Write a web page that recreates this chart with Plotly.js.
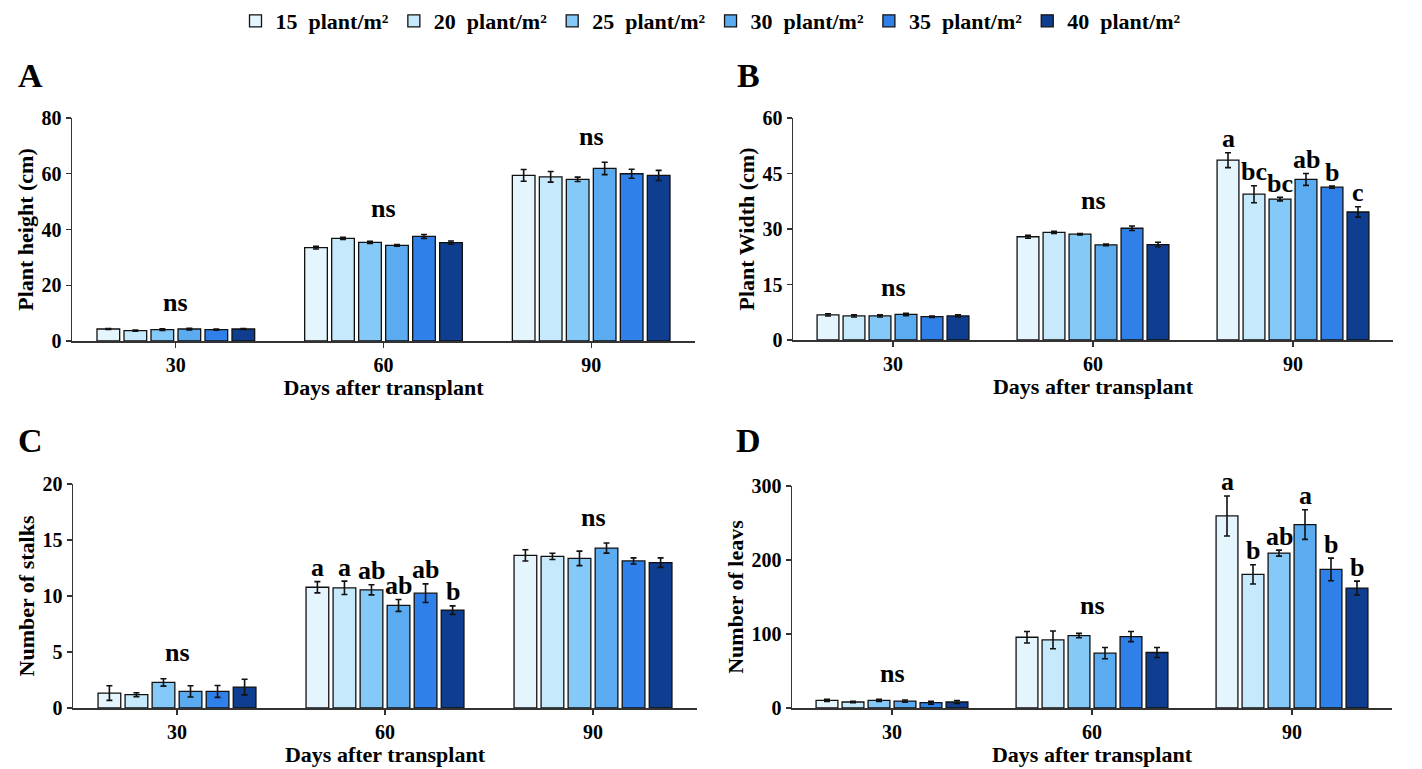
<!DOCTYPE html>
<html>
<head>
<meta charset="utf-8">
<script src="https://cdn.plot.ly/plotly-3.0.1.min.js"></script>
<style>html,body{margin:0;padding:0;background:#fff;}#chart{width:1422px;height:769px;}</style>
</head>
<body>
<div id="chart"></div>
<script>
// ---- data ----
const days = ['30', '60', '90'];
const densities = ['15\u00a0\u00a0plant/m²', '20\u00a0\u00a0plant/m²', '25\u00a0\u00a0plant/m²', '30\u00a0\u00a0plant/m²', '35\u00a0\u00a0plant/m²', '40\u00a0\u00a0plant/m²'];
const colors = ['#e4f5fd', '#c6eafb', '#84c9f8', '#5aabf0', '#2f80e8', '#0f3d8f'];

// values per density: [30, 60, 90 days]
const heightVals = [[4.3, 33.5, 59.4], [3.7, 36.8, 58.9], [4.1, 35.4, 58.0], [4.3, 34.3, 61.9], [4.1, 37.5, 60.0], [4.3, 35.3, 59.4]];
const heightErr  = [[0.2, 0.5, 2.1], [0.2, 0.4, 1.9], [0.3, 0.4, 0.8], [0.3, 0.3, 2.2], [0.2, 0.7, 1.6], [0.2, 0.6, 1.8]];
const widthVals  = [[6.8, 27.9, 48.6], [6.5, 29.1, 39.4], [6.5, 28.6, 38.1], [6.9, 25.7, 43.4], [6.3, 30.2, 41.3], [6.5, 25.8, 34.6]];
const widthErr   = [[0.3, 0.4, 2.0], [0.3, 0.3, 2.3], [0.3, 0.2, 0.5], [0.3, 0.2, 1.6], [0.2, 0.6, 0.3], [0.3, 0.6, 1.4]];
const stalkVals  = [[1.33, 10.78, 13.63], [1.19, 10.73, 13.54], [2.28, 10.55, 13.36], [1.48, 9.16, 14.28], [1.48, 10.25, 13.13], [1.87, 8.74, 12.98]];
const stalkErr   = [[0.65, 0.5, 0.5], [0.17, 0.6, 0.28], [0.33, 0.45, 0.65], [0.5, 0.53, 0.45], [0.53, 0.83, 0.27], [0.7, 0.38, 0.42]];
const leafVals   = [[10.3, 95.6, 259.5], [8.1, 92.0, 180.5], [10.3, 97.9, 209.3], [9.4, 74.1, 247.9], [7.2, 96.5, 187.2], [8.1, 75.0, 162.1]];
const leafErr    = [[1.5, 7.7, 27], [1.0, 12, 13], [1.5, 3, 4], [1.5, 7.6, 20], [2.0, 6.8, 15.3], [2.0, 6.7, 9.4]];

// letters per day group (null = 'ns' for whole group)
const heightLetters = [null, null, null];
const widthLetters  = [null, null, ['a', 'bc', 'bc', 'ab', 'b', 'c']];
const stalkLetters  = [null, ['a', 'a', 'ab', 'ab', 'ab', 'b'], null];
const leafLetters   = [null, null, ['a', 'b', 'ab', 'a', 'b', 'b']];

const panelLetters = ['A', 'B', 'C', 'D'];
const yTitles = ['Plant height (cm)', 'Plant Width (cm)', 'Number of stalks', 'Number of leavs'];
const yTicks = [[0, 20, 40, 60, 80], [0, 15, 30, 45, 60], [0, 5, 10, 15, 20], [0, 100, 200, 300]];
const xTitle = 'Days after transplant';

// ---- layout ----
const W = 1422, H = 769;
const FONT = 'Liberation Serif, Times New Roman, serif';
const BARGAP = 0.22, GROUPGAP = 0.16;
const panels = [
  {vals: heightVals, err: heightErr, letters: heightLetters, xd: [72, 695], yd: [341, 118]},
  {vals: widthVals, err: widthErr, letters: widthLetters, xd: [793, 1393], yd: [340, 118]},
  {vals: stalkVals, err: stalkErr, letters: stalkLetters, xd: [73, 697], yd: [708, 484]},
  {vals: leafVals, err: leafErr, letters: leafLetters, xd: [792, 1392], yd: [708, 486]}
];
const panelLetterPos = [[30, 75], [748, 75], [30, 440], [748, 440]];

const traces = [];
const annotations = [];
const layout = {
  width: W, height: H,
  margin: {l: 0, r: 0, t: 0, b: 0},
  paper_bgcolor: '#fff', plot_bgcolor: '#fff',
  barmode: 'group', bargap: BARGAP, bargroupgap: GROUPGAP,
  font: {family: FONT, color: '#000', size: 20},
  showlegend: true,
  legend: {orientation: 'h', x: 0.5, xanchor: 'center', y: 1.0, yanchor: 'top',
           font: {family: FONT, size: 22, color: '#000', weight: 'bold'},
           itemwidth: 30, tracegroupgap: 0, bgcolor: 'rgba(0,0,0,0)'},
  annotations: annotations
};

panels.forEach((p, k) => {
  const xa = 'xaxis' + (k === 0 ? '' : k + 1);
  const ya = 'yaxis' + (k === 0 ? '' : k + 1);
  const xr = 'x' + (k === 0 ? '' : k + 1);
  const yr = 'y' + (k === 0 ? '' : k + 1);
  const ticks = yTicks[k];
  const ymax = ticks[ticks.length - 1];
  layout[xa] = {
    domain: [p.xd[0] / W, p.xd[1] / W], anchor: yr, type: 'category',
    range: [-0.5, 2.5], showline: true, linecolor: '#333', linewidth: 1.5,
    ticks: 'outside', ticklen: 5, tickcolor: '#333', tickwidth: 1.2,
    showgrid: false, zeroline: false, fixedrange: true,
    tickfont: {family: FONT, size: 20, color: '#000', weight: 'bold'},
    title: {text: xTitle, font: {family: FONT, size: 22, color: '#000', weight: 'bold'}, standoff: 5}
  };
  layout[ya] = {
    domain: [(H - p.yd[0]) / H, (H - p.yd[1]) / H], anchor: xr,
    range: [0, ymax], tickvals: ticks, showline: true, linecolor: '#333', linewidth: 1.5,
    ticks: 'outside', ticklen: 5, tickcolor: '#333', tickwidth: 1.2,
    showgrid: false, zeroline: false, fixedrange: true,
    tickfont: {family: FONT, size: 20, color: '#000', weight: 'bold'},
    title: {text: yTitles[k], font: {family: FONT, size: 22, color: '#000', weight: 'bold'}, standoff: 2}
  };
  for (let i = 0; i < densities.length; i++) {
    traces.push({
      type: 'bar', name: densities[i], x: days, y: p.vals[i],
      xaxis: xr, yaxis: yr, legendgroup: densities[i], showlegend: k === 0,
      marker: {color: colors[i], line: {color: '#111', width: 1.3}},
      error_y: {type: 'data', array: p.err[i], visible: true, color: '#111', thickness: 1.6, width: 3},
      hoverinfo: 'skip'
    });
  }
  const slot = (1 - BARGAP) / densities.length;
  days.forEach((d, g) => {
    const tops = p.vals.map((v, i) => v[g] + p.err[i][g]);
    const lets = p.letters[g];
    if (!lets) {
      annotations.push({
        xref: xr, yref: yr, x: g, y: Math.max(...tops), yanchor: 'middle', yshift: 26,
        text: 'ns', showarrow: false,
        font: {family: FONT, size: 26, color: '#000', weight: 'bold'}
      });
    } else {
      lets.forEach((t, i) => {
        annotations.push({
          xref: xr, yref: yr, x: g + (i - (densities.length - 1) / 2) * slot, y: tops[i],
          yanchor: 'middle', yshift: 14, text: t, showarrow: false,
          font: {family: FONT, size: 26, color: '#000', weight: 'bold'}
        });
      });
    }
  });
  annotations.push({
    xref: 'paper', yref: 'paper', x: panelLetterPos[k][0] / W, y: (H - panelLetterPos[k][1]) / H,
    xanchor: 'center', yanchor: 'middle', text: panelLetters[k], showarrow: false,
    font: {family: FONT, size: 34, color: '#000', weight: 'bold'}
  });
});

Plotly.newPlot('chart', traces, layout, {displayModeBar: false, staticPlot: true});
</script>
</body>
</html>
